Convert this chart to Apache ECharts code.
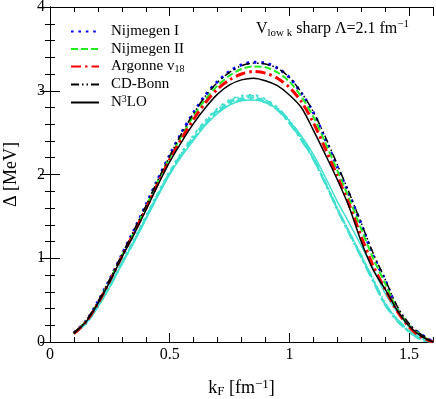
<!DOCTYPE html>
<html>
<head>
<meta charset="utf-8">
<script src="https://cdn.jsdelivr.net/npm/echarts@6/dist/echarts.min.js"></script>
<style>
  html, body { margin: 0; padding: 0; background: #fff; }
  #gapChart { width: 436px; height: 399px; }
</style>
</head>
<body>
<div id="gapChart"></div>
<script>
// k_F grid [fm^-1]
var kF = [0.10, 0.15, 0.20, 0.25, 0.30, 0.35, 0.40, 0.45, 0.50, 0.55, 0.60, 0.65, 0.70, 0.75, 0.80, 0.85,
          0.90, 0.95, 1.00, 1.05, 1.10, 1.15, 1.20, 1.25, 1.30, 1.35, 1.40, 1.45, 1.50, 1.55, 1.60];

// gap Delta [MeV], upper set of curves
var nijmegenI  = [0.11, 0.25, 0.48, 0.75, 1.04, 1.33, 1.63, 1.94, 2.23, 2.50, 2.74, 2.95, 3.11, 3.23, 3.31, 3.34,
                  3.33, 3.27, 3.16, 2.97, 2.74, 2.42, 2.09, 1.76, 1.41, 1.03, 0.74, 0.40, 0.20, 0.09, 0.00];
var nijmegenII = [0.11, 0.25, 0.47, 0.74, 1.03, 1.31, 1.61, 1.92, 2.20, 2.46, 2.70, 2.90, 3.06, 3.18, 3.26, 3.29,
                  3.28, 3.22, 3.11, 2.93, 2.69, 2.38, 2.05, 1.71, 1.35, 1.00, 0.70, 0.40, 0.20, 0.08, 0.00];
var argonne    = [0.10, 0.24, 0.46, 0.73, 1.02, 1.30, 1.59, 1.89, 2.18, 2.43, 2.66, 2.86, 3.02, 3.13, 3.20, 3.23,
                  3.21, 3.15, 3.04, 2.87, 2.62, 2.31, 1.98, 1.64, 1.26, 0.91, 0.63, 0.37, 0.18, 0.06, 0.00];
var cdBonn     = [0.11, 0.25, 0.48, 0.75, 1.04, 1.33, 1.62, 1.93, 2.22, 2.49, 2.73, 2.94, 3.10, 3.22, 3.30, 3.33,
                  3.32, 3.27, 3.16, 2.98, 2.75, 2.45, 2.12, 1.78, 1.42, 1.06, 0.75, 0.43, 0.22, 0.09, 0.00];
var n3lo       = [0.10, 0.24, 0.46, 0.72, 1.01, 1.28, 1.57, 1.87, 2.15, 2.39, 2.61, 2.80, 2.96, 3.07, 3.13, 3.15,
                  3.12, 3.06, 2.95, 2.80, 2.53, 2.24, 1.94, 1.61, 1.20, 0.86, 0.63, 0.38, 0.19, 0.07, 0.00];

// gap Delta [MeV], lower (turquoise) set of curves
var nijmegenIc  = [0.10, 0.22, 0.43, 0.67, 0.95, 1.22, 1.50, 1.78, 2.04, 2.27, 2.47, 2.65, 2.79, 2.89, 2.94, 2.95,
                   2.90, 2.80, 2.64, 2.43, 2.19, 1.90, 1.59, 1.30, 1.02, 0.73, 0.45, 0.26, 0.12, 0.03, 0.00];
var nijmegenIIc = [0.10, 0.22, 0.42, 0.66, 0.94, 1.20, 1.48, 1.76, 2.02, 2.24, 2.43, 2.62, 2.76, 2.86, 2.91, 2.92,
                   2.87, 2.78, 2.62, 2.42, 2.19, 1.90, 1.59, 1.31, 1.03, 0.74, 0.45, 0.27, 0.13, 0.03, 0.00];
var argonneC    = [0.10, 0.22, 0.42, 0.66, 0.93, 1.19, 1.47, 1.75, 2.01, 2.23, 2.42, 2.60, 2.74, 2.84, 2.89, 2.90,
                   2.86, 2.77, 2.61, 2.41, 2.18, 1.89, 1.58, 1.29, 1.01, 0.72, 0.44, 0.25, 0.12, 0.03, 0.00];
var cdBonnC     = [0.10, 0.22, 0.43, 0.67, 0.95, 1.21, 1.49, 1.77, 2.03, 2.26, 2.46, 2.64, 2.78, 2.88, 2.93, 2.94,
                   2.89, 2.80, 2.65, 2.45, 2.21, 1.92, 1.61, 1.32, 1.04, 0.76, 0.47, 0.28, 0.14, 0.04, 0.00];
var n3loC       = [0.10, 0.22, 0.42, 0.66, 0.93, 1.19, 1.46, 1.74, 2.00, 2.22, 2.41, 2.59, 2.73, 2.83, 2.88, 2.89,
                   2.86, 2.78, 2.64, 2.46, 2.24, 1.97, 1.68, 1.42, 1.15, 0.88, 0.58, 0.36, 0.18, 0.06, 0.00];

var legendNames = ["Nijmegen I", "Nijmegen II", "Argonne v18", "CD-Bonn", "N3LO"];

var FONT = "Liberation Serif";
var TURQ = "#40e0d0";

function pairs(ys) {
  return kF.map(function (k, i) { return [k, ys[i]]; });
}

function curve(name, ys, color, width, type) {
  return {
    name: name,
    type: "line",
    data: pairs(ys),
    symbol: "none",
    smooth: 0.3,
    lineStyle: { color: color, width: width, type: type },
    // opacity 0 hides the legend's circle marker, the line itself uses lineStyle
    itemStyle: { color: color, opacity: 0 }
  };
}

// line patterns
var DOT = [2.6, 4.8], DASH = [7, 3], DASHDOT = [10, 4, 2.5, 4], DASHDOTDOT = [8, 3, 1.5, 3, 1.5, 3];

var chart = echarts.init(document.getElementById("gapChart"));

var tickAxis = function (pos, interval, len, extra) {
  var a = {
    type: "value",
    position: pos,
    min: 0,
    max: pos === "top" || pos === "bottom" ? 1.6 : 4,
    interval: interval,
    axisLine: { show: true, lineStyle: { color: "#000", width: 1 } },
    axisTick: { show: true, inside: true, length: len, lineStyle: { color: "#000", width: 1 } },
    axisLabel: { show: false },
    splitLine: { show: false }
  };
  return Object.assign(a, extra || {});
};

var option = {
  animation: false,
  backgroundColor: "#fff",
  grid: { left: 50, right: 3, top: 7, bottom: 57, outerBoundsMode: "none" },
  title: {
    text: "{m|V}{s|low k}{m| sharp Λ=2.1 fm}{p|−1}",
    right: 22,
    top: 14,
    textStyle: {
      fontWeight: "normal",
      rich: {
        m: { fontFamily: FONT, fontSize: 16, fontWeight: "normal", color: "#000", lineHeight: 20 },
        s: { fontFamily: FONT, fontSize: 11, fontWeight: "normal", color: "#000", lineHeight: 8, verticalAlign: "bottom" },
        p: { fontFamily: FONT, fontSize: 11, fontWeight: "normal", color: "#000", lineHeight: 6, verticalAlign: "top" }
      }
    }
  },
  legend: {
    data: legendNames,
    orient: "vertical",
    left: 70,
    top: 24,
    padding: 0,
    itemWidth: 28,
    itemHeight: 14,
    itemGap: 2.5,
    selectedMode: false,
    itemStyle: { opacity: 0 },
    formatter: function (name) {
      if (name === "Argonne v18") return "{m|Argonne v}{s|18}";
      if (name === "N3LO") return "{m|N}{p|3}{m|LO}";
      return "{m|" + name + "}";
    },
    textStyle: {
      padding: [0, 0, 0, 7],
      rich: {
        m: { fontFamily: FONT, fontSize: 15, color: "#000", lineHeight: 16 },
        s: { fontFamily: FONT, fontSize: 10, color: "#000", lineHeight: 6, verticalAlign: "bottom" },
        p: { fontFamily: FONT, fontSize: 10, color: "#000", lineHeight: 6, verticalAlign: "top" }
      }
    }
  },
  xAxis: [
    tickAxis("bottom", 0.5, 9, {
      axisLabel: { show: true, showMaxLabel: false, margin: 5, fontFamily: FONT, fontSize: 16, color: "#000" },
      name: "{m|k}{s|F}{m| [fm}{p|−1}{m|]}",
      nameLocation: "middle",
      nameGap: 36,
      nameTextStyle: {
        rich: {
          m: { fontFamily: FONT, fontSize: 18, color: "#000", lineHeight: 20 },
          s: { fontFamily: FONT, fontSize: 13, color: "#000", lineHeight: 8, verticalAlign: "bottom" },
          p: { fontFamily: FONT, fontSize: 13, color: "#000", lineHeight: 6, verticalAlign: "top" }
        }
      }
    }),
    tickAxis("bottom", 0.1, 5),
    tickAxis("top", 0.5, 9),
    tickAxis("top", 0.1, 5)
  ],
  yAxis: [
    tickAxis("left", 1, 10, {
      minorTick: { show: true, splitNumber: 5, length: 5, lineStyle: { color: "#000", width: 1 } },
      axisLabel: { show: true, margin: 5, fontFamily: FONT, fontSize: 16, color: "#000" },
      name: "Δ [MeV]",
      nameLocation: "middle",
      nameGap: 30,
      nameTextStyle: { fontFamily: FONT, fontSize: 18, color: "#000" }
    }),
    tickAxis("right", 1, 10, {
      minorTick: { show: true, splitNumber: 5, length: 5, lineStyle: { color: "#000", width: 1 } }
    })
  ],
  series: [
    curve("Nijmegen I (c)", nijmegenIc, TURQ, 2, DOT),
    curve("Nijmegen II (c)", nijmegenIIc, TURQ, 2, DASH),
    curve("Argonne v18 (c)", argonneC, TURQ, 2, DASHDOT),
    curve("CD-Bonn (c)", cdBonnC, TURQ, 1.5, DASHDOTDOT),
    curve("N3LO (c)", n3loC, TURQ, 1.5, "solid"),
    curve("Nijmegen I", nijmegenI, "#0000ff", 3, DOT),
    curve("Nijmegen II", nijmegenII, "#22ee22", 2, DASH),
    curve("Argonne v18", argonne, "#ff0000", 3, DASHDOT),
    curve("CD-Bonn", cdBonn, "#000", 1.5, DASHDOTDOT),
    curve("N3LO", n3lo, "#000", 1.5, "solid")
  ]
};

chart.setOption(option);
</script>
</body>
</html>
